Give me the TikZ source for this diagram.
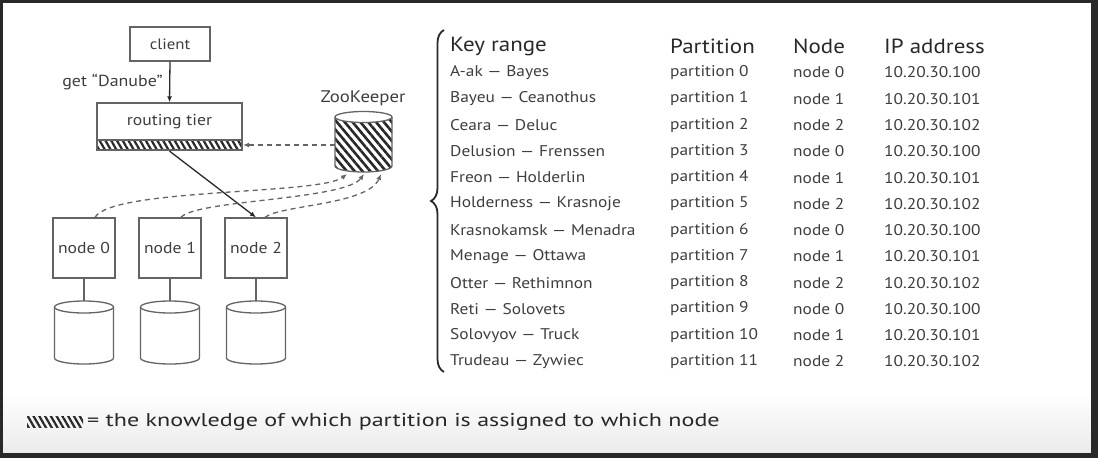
\documentclass[tikz,border=0pt]{standalone}
\usepackage{fontspec}
\setmainfont{PT Sans}[FakeStretch=1.12]
\newfontfamily\legendfont{PT Sans}[FakeStretch=1.3]
\usepackage{tikz}
\usetikzlibrary{arrows.meta,patterns.meta,decorations.pathreplacing}
\definecolor{Marco}{RGB}{40,40,40}
\definecolor{Trazo}{RGB}{100,100,100}
\definecolor{Texto}{RGB}{62,62,62}

\begin{document}
\begin{tikzpicture}[x=1pt,y=1pt,>={Latex[length=6pt,width=5pt]},
  box/.style={draw=Trazo,line width=1.3pt,fill=white,inner sep=0pt,text=Texto,font=\fontsize{15.75}{18}\selectfont},
  knows/.style={pattern={Lines[angle=-60,distance=5pt,line width=2.2pt]},pattern color=Marco},
  disk/.style={draw=Trazo,line width=1.3pt},
  link/.style={Marco,line width=1.3pt},
  watch/.style={Trazo,line width=1.3pt,dash pattern=on 5pt off 4pt},
  cell/.style={anchor=west,inner sep=0pt,text=Texto,font=\fontsize{15.5}{17}\selectfont},
  head/.style={anchor=west,inner sep=0pt,text=Marco,font=\fontsize{20.5}{23}\selectfont}]
  \useasboundingbox (0,0) rectangle (1098,-458);
  % frame of the slide
  \shade[top color=white,bottom color=black!8] (3,-392) rectangle (1092,-453);
  \fill[Marco] (0,0) rectangle (1098,-3);
  \fill[Marco] (0,0) rectangle (3,-458);
  \fill[Marco] (1091,0) rectangle (1098,-458);
  \fill[Marco] (0,-453) rectangle (1098,-458);

  % client and routing tier
  \node[box,minimum width=80,minimum height=34,font=\fontsize{15}{17}\selectfont] (client) at (170,-44) {client};
  \node[box,minimum width=145,minimum height=37] (rt) at (169.5,-121.5) {routing tier};
  \node[draw=Trazo,line width=1.3pt,knows,minimum width=145,minimum height=10,inner sep=0pt] (rtk) at (169.5,-145) {};
  \draw[->,link] (client.south) -- (rt.north)
    node[pos=0.5,left=3pt,text=Texto,font=\fontsize{16}{18}\selectfont] (get) {get “Danube”};

  % ZooKeeper
  \node[text=Texto,font=\fontsize{16.75}{19}\selectfont] (zkl) at (363,-98) {ZooKeeper};
  \fill[pattern={Lines[angle=-50,distance=6pt,line width=2.6pt]},pattern color=Marco]
    (335,-117) -- (335,-166) arc(180:360:28.5 and 6) -- (392,-117) -- cycle;
  \draw[disk] (335,-117) -- (335,-166) arc(180:360:28.5 and 6) -- (392,-117);
  \draw[disk,fill=white] (363.5,-117) ellipse (28.5 and 5.5);
  \coordinate (zkw) at (335,-145);
  \coordinate (zb0) at (347,-174);
  \coordinate (zb1) at (364,-174);
  \coordinate (zb2) at (381,-174);
  \draw[->,watch] (zkw) -- (rtk.east);

  % nodes with their disks
  \foreach \i/\x in {0/84,1/170,2/256}{
    \node[box,minimum width=62,minimum height=60] (nd\i) at (\x,-248) {node \i};
    \coordinate (db\i) at (\x,-301);
    \draw[disk,fill=white] ({\x-29.5},-307) -- ({\x-29.5},-358) arc(180:360:29.5 and 6) -- ({\x+29.5},-307);
    \draw[disk,fill=white] (\x,-307) ellipse (29.5 and 6);
    \draw[disk] (nd\i.south) -- (db\i);
  }
  \draw[->,link] (rtk.south) -- (nd2.north);
  \draw[->,watch] ([xshift=11pt]nd0.north) .. controls (112,-188) and (320,-195) .. (zb0);
  \draw[->,watch] ([xshift=11pt]nd1.north) .. controls (195,-200) and (345,-200) .. (zb1);
  \draw[->,watch] ([xshift=9pt]nd2.north) .. controls (280,-205) and (368,-205) .. (zb2);

  % partition table
  \draw[decorate,decoration={brace,amplitude=13pt},line width=1.8pt,Marco] (444,-372) -- (444,-30);
  \node[head] (hkey) at (450,-46) {Key range};
  \node[head] (hpart) at (670,-46) {Partition};
  \node[head] (hnode) at (793,-46) {Node};
  \node[head] (hip) at (884,-46) {IP address};
  \foreach \a/\b/\n [count=\r from 0] in {A-ak/Bayes/0,Bayeu/Ceanothus/1,Ceara/Deluc/2,
      Delusion/Frenssen/0,Freon/Holderlin/1,Holderness/Krasnoje/2,Krasnokamsk/Menadra/0,
      Menage/Ottawa/1,Otter/Rethimnon/2,Reti/Solovets/0,Solovyov/Truck/1,Trudeau/Zywiec/2}{
    \pgfmathsetmacro\yy{-72.5-26.27*\r}
    \node[cell] (key\r) at (450,\yy) {\a{} — \b};
    \node[cell] (part\r) at (670,\yy) {partition \r};
    \node[cell] (host\r) at (793,\yy) {node \n};
    \node[cell] (ip\r) at (884,\yy) {10.20.30.10\n};
  }

  % legend
  \node[knows,minimum width=56,minimum height=11,inner sep=0pt] (keyhatch) at (55,-422) {};
  \node[anchor=west,inner sep=0pt,text=Marco,font=\legendfont\fontsize{18.5}{21}\selectfont] (keytext) at (87,-422)
    {= the knowledge of which partition is assigned to which node};
\end{tikzpicture}
\end{document}
